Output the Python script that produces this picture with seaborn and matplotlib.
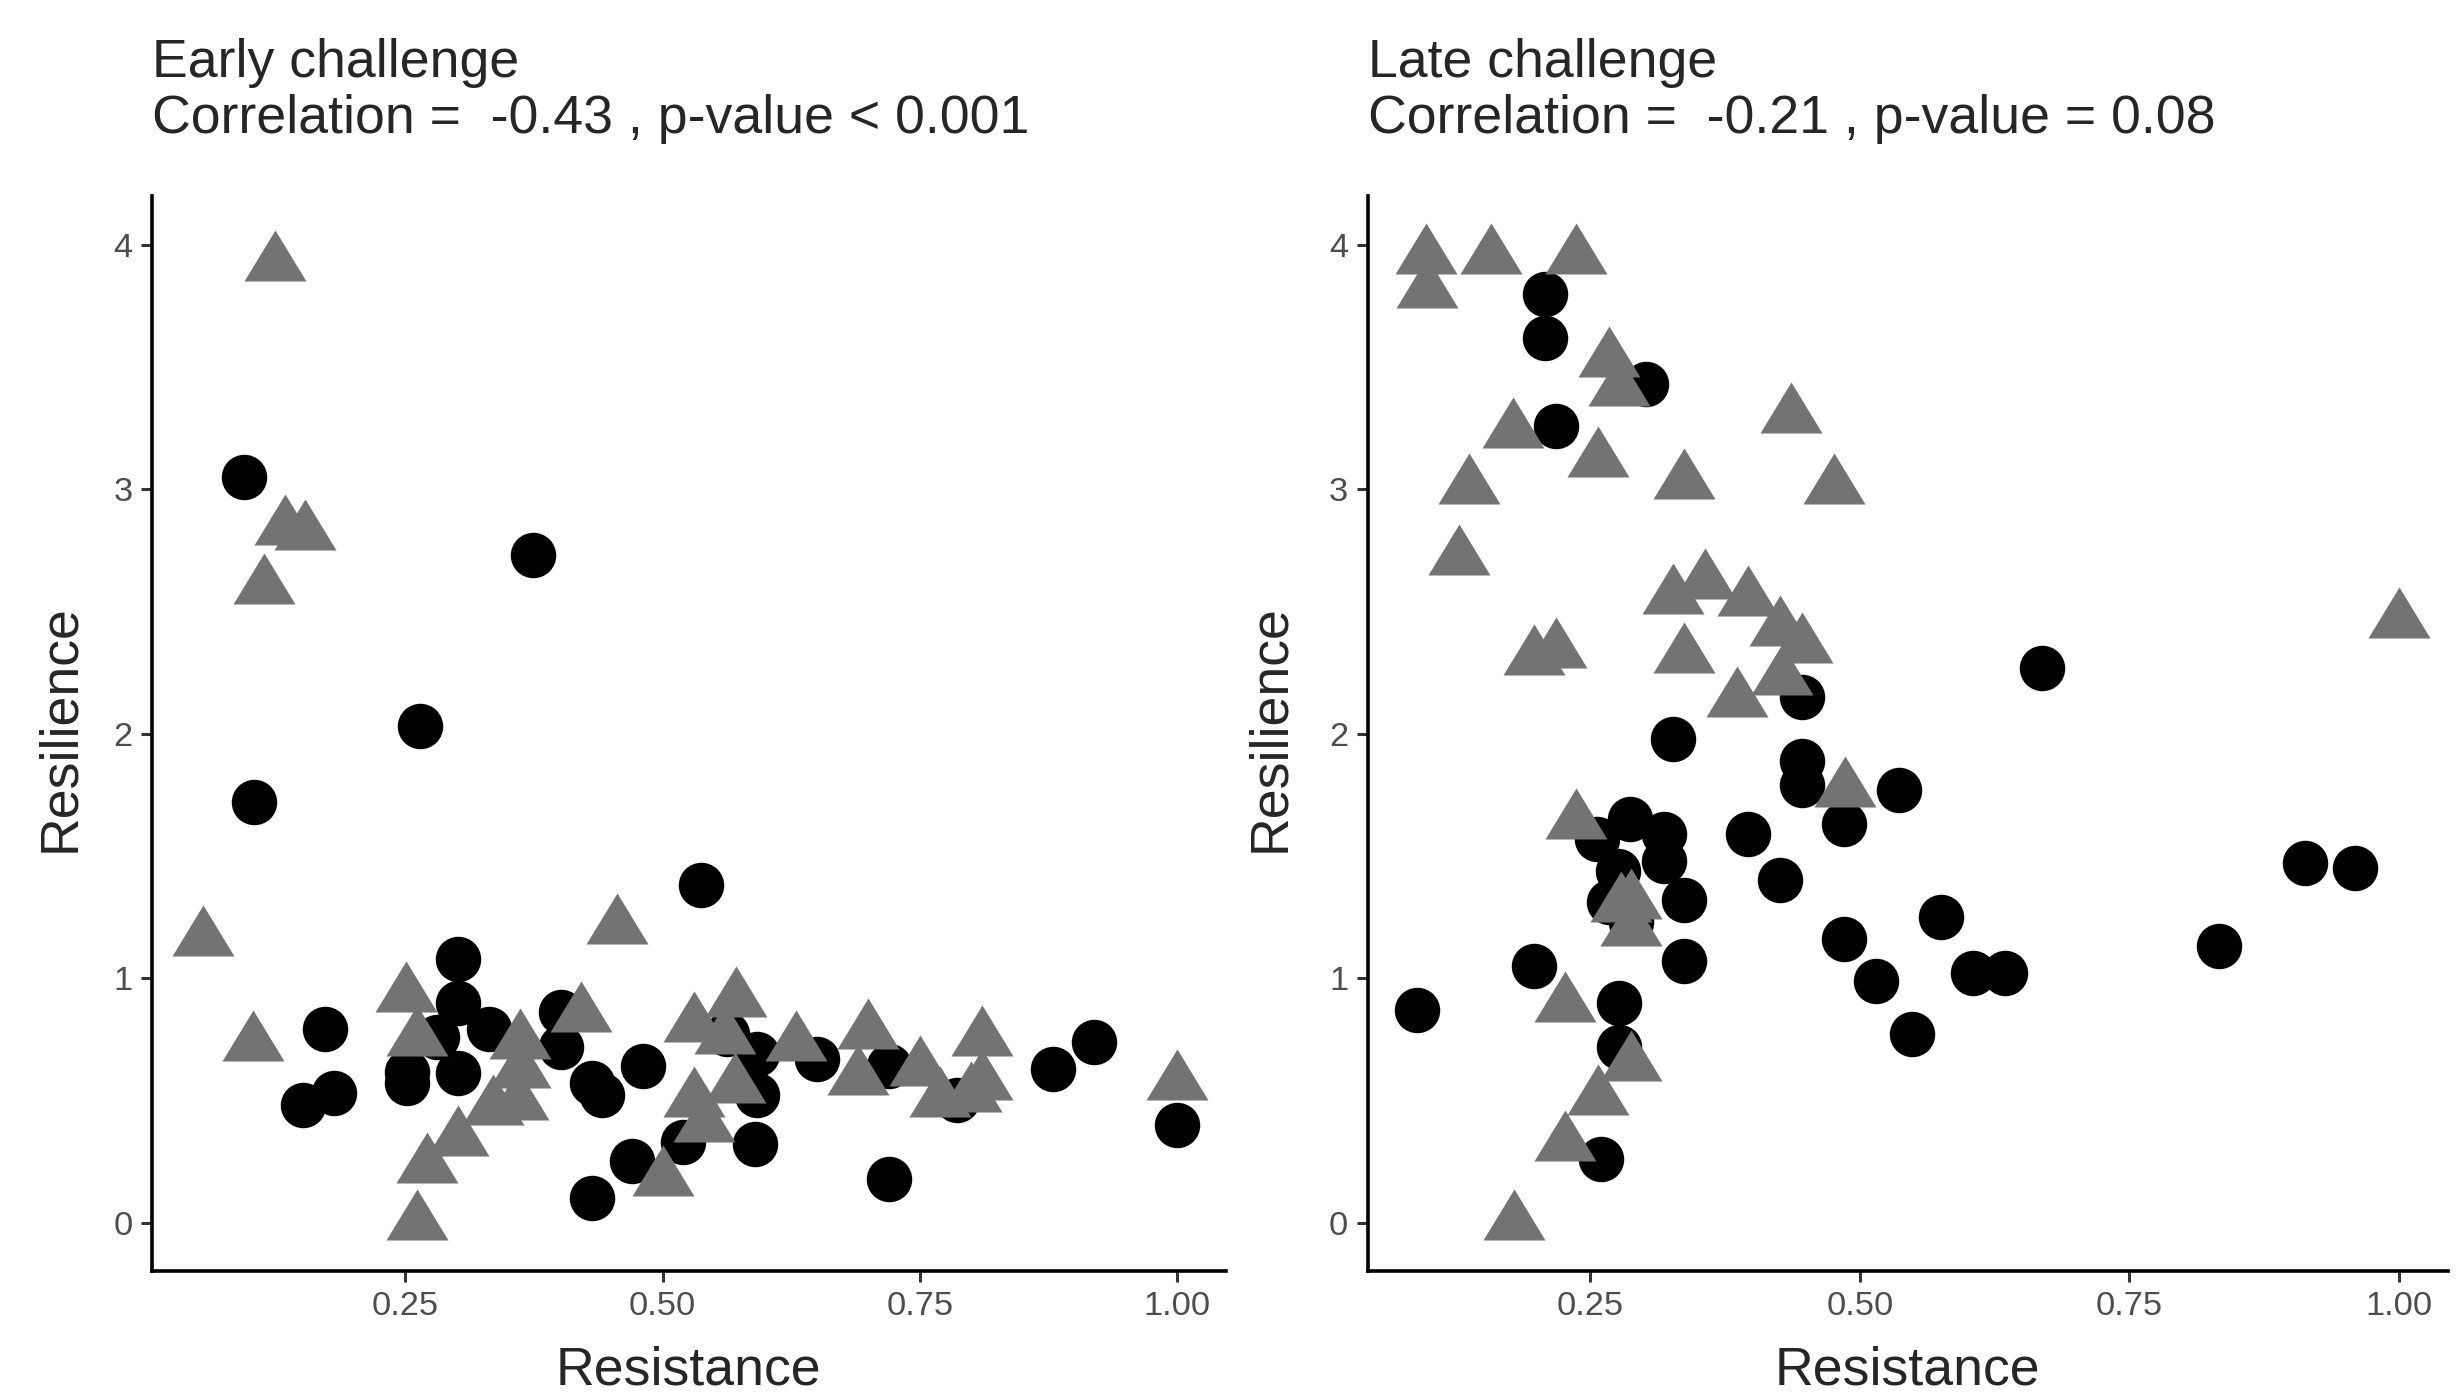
import pandas as pd
import matplotlib
matplotlib.use("Agg")
import matplotlib.pyplot as plt
from matplotlib.path import Path
import seaborn as sns

# Early challenge: group 1 (black circles)
early_g1_resistance = [0.093, 0.374, 0.264, 0.103, 0.537, 0.301, 0.301, 0.172, 0.181, 0.151,
                       0.252, 0.252, 0.281, 0.331, 0.301, 0.401, 0.401, 0.431, 0.441, 0.481,
                       0.431, 0.470, 0.520, 0.590, 0.720, 0.563, 0.592, 0.592, 0.650, 0.720,
                       0.786, 0.879, 0.919, 1.000]
early_g1_resilience = [3.05, 2.73, 2.03, 1.72, 1.38, 1.08, 0.90, 0.79, 0.53, 0.48,
                       0.615, 0.572, 0.76, 0.79, 0.61, 0.86, 0.72, 0.57, 0.52, 0.64,
                       0.10, 0.25, 0.33, 0.32, 0.18, 0.77, 0.69, 0.52, 0.67, 0.64,
                       0.50, 0.63, 0.74, 0.40]

# Early challenge: group 2 (grey triangles)
early_g2_resistance = [0.123, 0.133, 0.153, 0.113, 0.053, 0.456, 0.102, 0.251, 0.261, 0.361,
                       0.361, 0.360, 0.335, 0.301, 0.271, 0.261, 0.421, 0.500, 0.531, 0.571,
                       0.561, 0.570, 0.531, 0.540, 0.630, 0.700, 0.690, 0.750, 0.770, 0.810,
                       0.810, 0.800, 1.000]
early_g2_resilience = [3.92, 2.84, 2.82, 2.60, 1.16, 1.21, 0.73, 0.93, 0.75, 0.74,
                       0.62, 0.49, 0.47, 0.34, 0.23, 0.00, 0.85, 0.18, 0.81, 0.91,
                       0.76, 0.56, 0.50, 0.40, 0.73, 0.78, 0.59, 0.63, 0.50, 0.75,
                       0.57, 0.52, 0.57]

# Late challenge: group 1 (black circles)
late_g1_resistance = [0.208, 0.208, 0.302, 0.218, 0.446, 0.327, 0.446, 0.446, 0.485, 0.536,
                      0.396, 0.426, 0.287, 0.318, 0.256, 0.318, 0.276, 0.267, 0.288, 0.337,
                      0.337, 0.198, 0.277, 0.277, 0.260, 0.485, 0.515, 0.548, 0.669, 0.913,
                      0.959, 0.575, 0.833, 0.605, 0.635, 0.089]
late_g1_resilience = [3.80, 3.62, 3.43, 3.26, 2.15, 1.98, 1.89, 1.79, 1.63, 1.77,
                      1.59, 1.40, 1.65, 1.59, 1.57, 1.48, 1.44, 1.31, 1.23, 1.32,
                      1.07, 1.05, 0.90, 0.72, 0.26, 1.16, 0.99, 0.77, 2.27, 1.47,
                      1.45, 1.25, 1.13, 1.02, 1.02, 0.87]

# Late challenge: group 2 (grey triangles)
late_g2_resistance = [0.098, 0.099, 0.158, 0.237, 0.267, 0.277, 0.178, 0.257, 0.436, 0.138,
                      0.337, 0.476, 0.128, 0.198, 0.218, 0.327, 0.356, 0.396, 0.426, 0.446,
                      0.337, 0.428, 0.386, 1.000, 0.486, 0.237, 0.279, 0.288, 0.288, 0.227,
                      0.288, 0.257, 0.227, 0.179]
late_g2_resilience = [3.95, 3.81, 3.95, 3.95, 3.53, 3.41, 3.24, 3.12, 3.30, 3.01,
                      3.03, 3.01, 2.72, 2.31, 2.34, 2.56, 2.62, 2.55, 2.43, 2.36,
                      2.32, 2.23, 2.14, 2.46, 1.77, 1.64, 1.30, 1.31, 1.20, 0.89,
                      0.65, 0.51, 0.32, 0.00]

titles = ["Early challenge", "Late challenge"]
correlations = ["Correlation =  -0.43 , p-value < 0.001",
                "Correlation =  -0.21 , p-value = 0.08"]
x_ticks = [0.25, 0.50, 0.75, 1.00]
y_ticks = [0, 1, 2, 3, 4]

# long table
frames = []
for title, g1x, g1y, g2x, g2y in [
    (titles[0], early_g1_resistance, early_g1_resilience, early_g2_resistance, early_g2_resilience),
    (titles[1], late_g1_resistance, late_g1_resilience, late_g2_resistance, late_g2_resilience),
]:
    frames.append(pd.DataFrame({"challenge": title, "group": "Group 1",
                                "Resistance": g1x, "Resilience": g1y}))
    frames.append(pd.DataFrame({"challenge": title, "group": "Group 2",
                                "Resistance": g2x, "Resilience": g2y}))
df = pd.concat(frames, ignore_index=True)

sns.set_style("ticks")
plt.rcParams["font.family"] = ["Liberation Sans", "DejaVu Sans"]

# filled triangle centred on its centroid, like R's pch 17
triangle = Path([(0, 34), (31, -17), (-31, -17), (0, 34)], closed=True)
styles = {"Group 1": dict(marker="o", s=268, color="black"),
          "Group 2": dict(marker=triangle, s=600, color="#737373")}

fig = plt.figure(figsize=(2461 / 200, 1392 / 200), dpi=200)
axes = [fig.add_axes([0.0618, 0.0866, 0.4362, 0.7726]),
        fig.add_axes([0.5557, 0.0866, 0.4390, 0.7726])]
xlims = [(0.004, 1.047), (0.0435, 1.0455)]
ylabel_x = [-0.0728, -0.0777]

for i, ax in enumerate(axes):
    sub = df[df["challenge"] == titles[i]]
    for grp in ["Group 1", "Group 2"]:
        sns.scatterplot(data=sub[sub["group"] == grp], x="Resistance", y="Resilience",
                        linewidth=0, legend=False, ax=ax, zorder=3, **styles[grp])

    ax.set_xlim(*xlims[i])
    ax.set_ylim(-0.2, 4.2)
    ax.set_xticks(x_ticks)
    ax.set_xticklabels([f"{t:.2f}" for t in x_ticks])
    ax.set_yticks(y_ticks)
    ax.tick_params(length=4, width=1.1, color="#333333", pad=3.0,
                   labelsize=12.4, labelcolor="#4D4D4D")
    sns.despine(ax=ax)
    for side in ["left", "bottom"]:
        ax.spines[side].set_linewidth(1.3)
        ax.spines[side].set_color("black")

    ax.set_xlabel("Resistance", fontsize=19.3, va="baseline")
    ax.xaxis.set_label_coords(0.5, -0.1055)
    ax.set_ylabel("Resilience", fontsize=19.3, va="baseline")
    ax.yaxis.set_label_coords(ylabel_x[i], 0.505)

    x0 = ax.get_position().x0
    fig.text(x0, 0.9445, titles[i], fontsize=19.3, va="baseline", ha="left")
    fig.text(x0, 0.9042, correlations[i], fontsize=19.3, va="baseline", ha="left")

fig.savefig("out.png", dpi=200)
